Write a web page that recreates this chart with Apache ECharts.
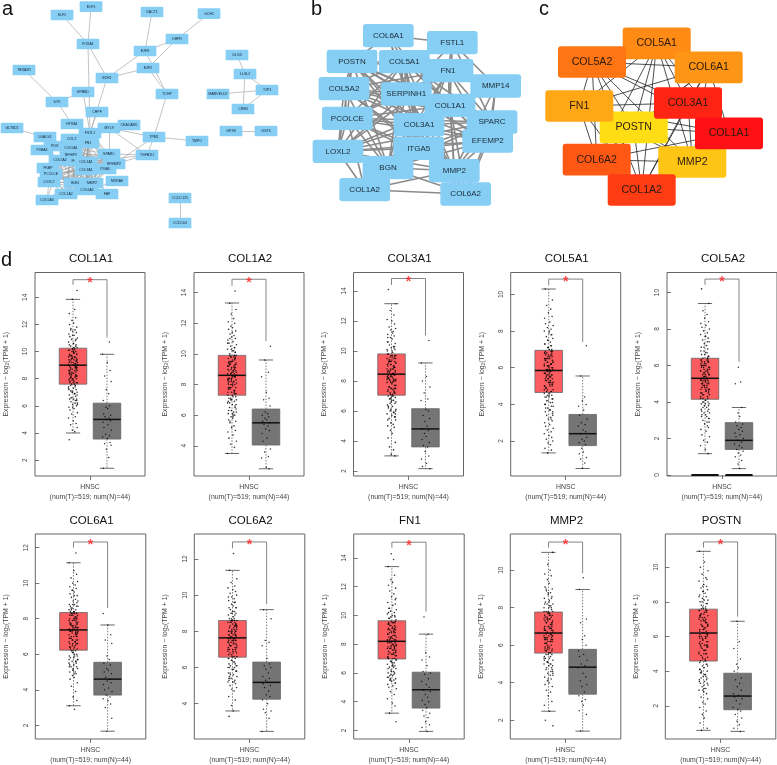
<!DOCTYPE html>
<html><head><meta charset="utf-8"><style>html,body{margin:0;padding:0;background:#fff}#c{width:777px;height:765px}</style>
<script src="https://cdn.jsdelivr.net/npm/echarts@6/dist/echarts.min.js"></script></head>
<body><div id="c"></div><script>
const genes=['COL1A1','COL1A2','COL3A1','COL5A1','COL5A2','COL6A1','COL6A2','FN1','MMP2','POSTN'];
// five-number summaries [low,q1,median,q3,high]
const statsT=[[4,7.6,9,10.25,13.85],[3.5,7.3,8.6,9.9,13.32],[3,7.05,8.45,9.8,13.15],[1.35,4.65,5.85,6.95,10.3],[1.17,4.15,5.3,6.4,9.4],[3.1,6.23,7.37,8.35,11.15],[3.6,6.57,7.64,8.6,11.37],[3.2,6.97,8.2,9.63,13.4],[2.48,5.58,6.65,7.77,10.95],[.58,4.58,6.2,7.58,10.92]];
const statsN=[[1.4,3.55,5,6.2,9.8],[2.5,4.05,5.5,6.4,9.6],[2.15,3.6,4.8,6.15,9.2],[.5,1.75,2.4,3.45,5.55],[.35,1.4,1.9,2.87,3.7],[1.67,3.7,4.6,5.55,7.65],[2.47,4.25,5.18,6.3,9.2],[1.93,3.55,4.83,6.05,8.7],[1.42,3.39,4.83,5.78,8.97],[.52,1.77,2.56,3.88,6.88]];
const axisRanges=[[.83,15.83],[2.03,15.31],[1.66,15.23],[.09,11.2],[-.055,11.1],[1.23,12.77],[2.05,13.38],[1.4,15.67],[1,11.93],[.08,11.92]];
const tickLabels=[[2,4,6,8,10,12,14],[4,6,8,10,12,14],[2,4,6,8,10,12,14],[2,4,6,8,10],[0,2,4,6,8,10],[2,4,6,8,10,12],[4,6,8,10,12],[2,4,6,8,10,12,14],[2,4,6,8,10],[2,4,6,8,10]];
// significance bracket [top,left leg end,right leg end]
const brackets=[[15.3,14.93,11.04],[14.87,14.44,10.83],[14.83,14.4,11.03],[10.84,10.5,7.41],[10.74,10.42,6.2],[12.32,12,8.6],[12.94,12.59,9.5],[15.1,14.72,10.27],[11.5,11.2,9.84],[11.46,11.13,7.15]];
// individual samples read from the jitter clouds
const t_COL1A1=[3.5,4.1,4.2,4.4,4.6,4.7,4.9,5.1,5.2,5.4,5.5,5.7,5.8,5.9,6,6.1,6.2,6.3,6.4,6.5,6.5,6.6,6.7,6.8,6.9,7,7,7.1,7.2,7.3,7.4,7.5,7.6,7.7,7.7,7.8,7.9,8,8,8.1,8.2,8.2,8.3,8.4,8.4,8.5,8.6,8.6,8.7,8.8,8.8,8.9,9,9,9.1,9.2,9.2,9.3,9.4,9.4,9.5,9.6,9.6,9.7,9.8,9.8,9.9,10,10,10.1,10.2,10.2,10.3,10.4,10.5,10.6,10.7,10.8,10.9,11,11.1,11.2,11.3,11.4,11.5,11.6,11.7,11.8,12,12.1,12.3,12.5,12.8,13.1,13.85,14.5];
const c_COL1A1=[8.1,9.3,7.7,10.1,8.9,9.5,6.2,8.4,9.9,7.2,8.7,10.2,9.1,6.6,8.2,9.7,7.9,8.5,10.4,9.2,6.9,8,9.4,7.5,8.8,10,9.6,6.4,8.3,9,7.8,10.3,8.6,9.3,5.9,7.4,8.1,9.8,8.9,10.6,7.1,9.1,8.4,7.6,9.5,6.8,8.7,10.9,9.2,7.3,8.2,9.7,6.1,8.5,10.1,9,7.7,11.2,8.8,9.4,6.5,8,9.9,7.9,8.3,10.5,9.6,7,8.6,11.6];
const n_COL1A1=[1.4,2.2,2.8,3.1,3.2,3.3,3.6,3.7,3.8,3.9,4.2,4.4,4.6,4.8,4.9,5,5.1,5.2,5.3,5.4,5.8,5.9,6,6.4,6.9,7.2,7.8,8.2,8.6,9.2,9.8,10.7];
const t_COL1A2=[3.5,3.9,4.1,4.3,4.5,4.7,4.9,5,5.2,5.3,5.5,5.6,5.7,5.8,5.9,6,6.1,6.2,6.3,6.4,6.5,6.6,6.7,6.8,6.9,7,7,7.1,7.2,7.3,7.4,7.5,7.6,7.7,7.8,7.8,7.9,8,8,8.1,8.2,8.3,8.3,8.4,8.5,8.5,8.6,8.7,8.7,8.8,8.9,8.9,9,9.1,9.1,9.2,9.3,9.3,9.4,9.5,9.5,9.6,9.7,9.8,9.8,9.9,10,10.1,10.2,10.3,10.4,10.5,10.6,10.7,10.8,10.9,11,11.1,11.2,11.3,11.5,11.6,11.7,11.8,12,12.1,12.3,12.6,12.9,13.3,14.1];
const c_COL1A2=[8,9.2,7.4,9.8,8.6,9.4,6,8.3,9.7,7,8.5,9.9,8.9,6.3,8.1,9.5,7.6,8.4,10.2,9,6.7,7.8,9.3,7.3,8.7,9.9,9.4,6.2,8.2,8.8,7.5,10.1,8.4,9.1,5.6,7.2,8,9.6,8.7,10.4,6.9,8.9,8.2,7.4,9.3,6.5,8.6,10.7,9,7.1,8.1,9.5,5.9,8.3,9.8,8.8,7.5,11,8.6,9.2,6.1,7.8,9.7,7.7,8.2,10.3,9.4,6.8,8.5,11.4];
const n_COL1A2=[2.5,2.6,3.2,3.3,3.6,3.8,4.3,4.5,4.8,5,5.1,5.3,5.4,5.5,5.6,5.7,5.8,5.9,6,6.1,6.2,6.6,7,7.1,7.5,8.5,8.8,9.6,10.5];
const t_COL3A1=[3,3.1,3.4,3.6,3.9,4.2,4.5,4.7,4.9,5,5.1,5.2,5.4,5.5,5.6,5.7,5.8,5.9,6,6.1,6.2,6.3,6.4,6.5,6.6,6.7,6.8,6.9,7,7,7.1,7.2,7.3,7.4,7.5,7.5,7.6,7.7,7.8,7.9,8,8,8.1,8.2,8.2,8.3,8.4,8.4,8.5,8.6,8.6,8.7,8.8,8.8,8.9,9,9,9.1,9.2,9.3,9.3,9.4,9.5,9.5,9.6,9.7,9.8,9.9,10,10.1,10.2,10.3,10.4,10.5,10.6,10.8,10.9,11,11.1,11.3,11.4,11.5,11.6,11.8,12,12.1,12.4,12.7,13.15,14.1];
const c_COL3A1=[7.9,9.1,7.2,9.7,8.5,9.3,5.8,8.2,9.6,6.8,8.4,9.8,8.8,6.1,8,9.4,7.5,8.3,10.1,8.9,6.5,7.7,9.2,7.1,8.6,9.7,9.3,5.9,8.1,8.7,7.4,10,8.3,9,5.4,7,7.9,9.5,8.6,10.3,6.7,8.8,8.1,7.2,9.2,6.3,8.5,10.6,8.9,6.9,8,9.4,5.6,8.2,9.7,8.7,7.3,10.9,8.5,9.1,6,7.6,9.6,7.5,8.1,10.2,9.3,6.6,8.4,11.2];
const n_COL3A1=[2.15,2.3,2.5,2.8,3,3.3,3.6,3.7,3.9,4.1,4.3,4.5,4.7,4.8,5,5.3,5.5,5.7,6,6.1,6.7,6.8,7.2,7.6,8,8.3,9.2,10.7];
const t_COL5A1=[1.35,1.5,1.6,1.8,1.9,2,2.1,2.2,2.3,2.4,2.5,2.6,2.7,2.8,2.9,3,3.1,3.2,3.3,3.4,3.5,3.6,3.7,3.8,3.9,4,4.1,4.2,4.3,4.4,4.5,4.5,4.6,4.7,4.8,4.8,4.9,5,5,5.1,5.2,5.2,5.3,5.4,5.4,5.5,5.6,5.6,5.7,5.8,5.8,5.9,5.9,6,6.1,6.1,6.2,6.3,6.3,6.4,6.5,6.5,6.6,6.7,6.7,6.8,6.9,6.9,7,7.1,7.2,7.3,7.4,7.5,7.6,7.7,7.8,7.9,8,8.1,8.2,8.3,8.4,8.5,8.7,8.8,9,9.2,9.4,9.7,10.3];
const c_COL5A1=[5.2,6.3,4.7,6.8,5.8,6.5,3.6,5.5,6.7,4.4,5.7,6.9,6.1,3.9,5.3,6.6,5,5.6,7.1,6.2,4.2,5.1,6.4,4.6,5.9,6.9,6.5,3.7,5.4,6,4.9,7,5.6,6.2,3.2,4.5,5.2,6.7,5.9,7.3,4.3,6.1,5.5,4.7,6.4,4,5.7,7.5,6.2,4.4,5.3,6.6,3.4,5.6,6.8,6,4.8,7.8,5.8,6.3,3.8,5.1,6.8,5,5.4,7.2,6.5,4.1,5.7,8];
const n_COL5A1=[.5,.8,1,1.1,1.3,1.4,1.6,1.8,1.9,2,2.1,2.2,2.4,2.5,2.6,2.8,2.9,3,3.2,3.4,3.7,3.9,4,4.2,4.4,5.55,7.2];
const t_COL5A2=[1.17,1.4,1.6,1.8,1.9,2.1,2.2,2.4,2.5,2.6,2.8,2.9,3,3.1,3.2,3.3,3.4,3.5,3.6,3.7,3.8,3.9,4,4,4.1,4.2,4.3,4.4,4.4,4.5,4.6,4.7,4.7,4.8,4.9,4.9,5,5,5.1,5.2,5.2,5.3,5.3,5.4,5.5,5.5,5.6,5.7,5.7,5.8,5.9,5.9,6,6,6.1,6.2,6.2,6.3,6.4,6.5,6.6,6.7,6.8,6.9,7,7.1,7.2,7.3,7.4,7.5,7.6,7.7,7.8,7.9,8,8.1,8.2,8.3,8.4,8.6,8.8,9,9.4,10.2];
const c_COL5A2=[4.7,5.8,4.2,6.3,5.3,6,3.1,5,6.2,3.9,5.2,6.4,5.6,3.4,4.8,6.1,4.5,5.1,6.6,5.7,3.7,4.6,5.9,4.1,5.4,6.4,6,3.2,4.9,5.5,4.4,6.5,5.1,5.7,2.7,4,4.7,6.2,5.4,6.8,3.8,5.6,5,4.2,5.9,3.5,5.2,7,5.7,3.9,4.8,6.1,2.9,5.1,6.3,5.5,4.3,7.3,5.3,5.8,3.3,4.6,6.3,4.5,4.9,6.7,6,3.6,5.2,7.6];
const n_COL5A2=[.35,.6,.8,1,1.1,1.2,1.3,1.4,1.5,1.6,1.7,1.8,1.9,2,2.1,2.2,2.3,2.4,2.5,2.6,2.7,2.8,2.9,3.2,3.4,3.7,5,5.1,5.9];
const t_COL6A1=[2.9,3.1,3.4,3.6,3.9,4.2,4.4,4.6,4.7,4.8,4.9,5,5,5.1,5.2,5.3,5.3,5.4,5.5,5.6,5.6,5.7,5.8,5.9,5.9,6,6.1,6.2,6.2,6.3,6.4,6.4,6.5,6.6,6.6,6.7,6.8,6.8,6.9,7,7,7.1,7.2,7.2,7.3,7.3,7.4,7.4,7.5,7.6,7.6,7.7,7.7,7.8,7.9,7.9,8,8,8.1,8.2,8.2,8.3,8.3,8.4,8.5,8.5,8.6,8.7,8.7,8.8,8.8,8.9,9,9.1,9.2,9.3,9.4,9.5,9.6,9.7,9.8,9.9,10,10.1,10.3,10.5,10.7,11.15,11.7];
const c_COL6A1=[6.8,7.8,6.3,8.3,7.4,8,5.2,7.1,8.2,5.9,7.3,8.4,7.6,5.5,6.9,8.1,6.6,7.2,8.6,7.7,5.8,6.7,7.9,6.2,7.5,8.4,8,5.3,7,7.5,6.5,8.5,7.2,7.7,4.9,6.1,6.8,8.2,7.5,8.8,5.7,7.6,7.1,6.3,7.9,5.6,7.3,9,7.7,6,6.9,8.1,5.1,7.2,8.3,7.5,6.4,9.3,7.4,7.8,5.4,6.7,8.3,6.6,7,8.7,8,5.7,7.3,9.6];
const n_COL6A1=[1.67,2.4,3,3.2,3.4,3.5,3.6,3.7,3.9,4,4.1,4.3,4.4,4.5,4.6,4.7,4.9,5,5.1,5.2,5.4,5.5,5.7,5.9,6.6,6.8,7.1,7.65,8.3];
const t_COL6A2=[3.3,3.6,3.9,4.2,4.4,4.7,4.8,4.9,5,5.1,5.2,5.2,5.3,5.4,5.5,5.5,5.6,5.7,5.8,5.9,6,6.1,6.1,6.2,6.3,6.4,6.5,6.5,6.6,6.7,6.8,6.8,6.9,7,7,7.1,7.2,7.2,7.3,7.4,7.4,7.5,7.5,7.6,7.7,7.7,7.8,7.8,7.9,8,8,8.1,8.1,8.2,8.3,8.3,8.4,8.5,8.5,8.6,8.6,8.7,8.8,8.9,9,9,9.1,9.2,9.3,9.3,9.4,9.5,9.6,9.7,9.8,9.9,10,10.1,10.2,10.3,10.4,10.5,10.7,10.9,11.37,12.3];
const c_COL6A2=[7.1,8,6.6,8.6,7.6,8.3,5.4,7.3,8.5,6.2,7.5,8.7,7.9,5.8,7.2,8.4,6.9,7.4,8.9,8,6.1,7,8.2,6.5,7.8,8.6,8.3,5.6,7.3,7.8,6.8,8.7,7.5,8,5.2,6.4,7.1,8.5,7.8,9.1,6,7.9,7.4,6.6,8.2,5.9,7.6,9.3,8,6.3,7.2,8.4,5.3,7.5,8.6,7.8,6.7,9.6,7.7,8.1,5.7,7,8.6,6.9,7.3,9,8.3,6,7.6,9.9];
const n_COL6A2=[2.47,3.2,3.5,3.6,3.7,4,4.2,4.4,4.5,4.7,4.9,5,5.1,5.2,5.3,5.4,5.5,5.7,5.9,6,6.1,6.2,6.5,7.2,7.4,7.5,8.7,9.2];
const t_FN1=[2.6,3.2,3.7,3.9,4.2,4.5,4.7,4.9,5,5.1,5.2,5.3,5.4,5.5,5.5,5.6,5.7,5.8,5.9,6,6,6.1,6.2,6.3,6.4,6.5,6.5,6.6,6.7,6.8,6.9,7,7,7.1,7.2,7.3,7.3,7.4,7.5,7.5,7.6,7.7,7.7,7.8,7.9,7.9,8,8.1,8.1,8.2,8.3,8.3,8.4,8.5,8.5,8.6,8.7,8.8,8.8,8.9,9,9,9.1,9.2,9.3,9.3,9.4,9.5,9.6,9.7,9.8,9.9,10,10.1,10.2,10.3,10.4,10.5,10.7,10.9,11.1,11.3,11.5,11.7,11.9,12.1,12.3,12.5,12.8,13.4,13.9,14.3];
const c_FN1=[7.6,8.8,7,9.5,8.2,9,5.6,7.9,9.4,6.6,8.1,9.6,8.5,5.9,7.7,9.2,7.3,8,9.9,8.6,6.3,7.4,8.9,6.9,8.3,9.5,9.1,5.7,7.8,8.4,7.2,9.8,8,8.7,5.3,6.8,7.6,9.3,8.3,10.2,6.5,8.5,7.8,7,8.9,6.1,8.2,10.5,8.6,6.7,7.7,9.1,5.5,7.9,9.5,8.4,7.1,10.8,8.2,8.8,5.8,7.4,9.4,7.3,7.8,10,9,6.4,8.1,11.2];
const n_FN1=[1.93,2.2,2.4,2.6,2.9,3,3.2,3.4,3.6,3.8,4,4.1,4.3,4.5,4.7,4.8,5,5.2,5.4,5.6,5.9,6,6.1,6.5,6.9,7.1,7.4,8.7,9.9];
const t_MMP2=[1.7,2,2.48,2.8,3,3.3,3.5,3.6,3.8,3.9,4,4.1,4.2,4.3,4.4,4.5,4.6,4.7,4.8,4.9,5,5,5.1,5.2,5.3,5.3,5.4,5.5,5.5,5.6,5.7,5.8,5.8,5.9,6,6,6.1,6.2,6.2,6.3,6.4,6.4,6.5,6.5,6.6,6.7,6.7,6.8,6.9,6.9,7,7,7.1,7.2,7.2,7.3,7.4,7.4,7.5,7.6,7.6,7.7,7.8,7.8,7.9,8,8,8.1,8.2,8.2,8.3,8.4,8.5,8.6,8.7,8.8,8.9,9,9.1,9.3,9.5,9.7,9.8,10,10.3,10.95];
const c_MMP2=[6.1,7.2,5.6,7.8,6.6,7.4,4.5,6.3,7.6,5.2,6.5,7.8,6.9,4.8,6.2,7.5,5.8,6.4,8,7,5,5.9,7.3,5.5,6.8,7.7,7.4,4.6,6.3,6.8,5.7,8.1,6.4,7.1,4.2,5.4,6.1,7.6,6.8,8.3,5.1,6.9,6.3,5.6,7.3,4.9,6.6,8.5,7,5.3,6.2,7.5,4.4,6.4,7.7,6.8,5.7,8.8,6.6,7.2,4.7,5.9,7.7,5.8,6.3,8.2,7.4,5.1,6.5,9];
const n_MMP2=[1.42,2.3,2.5,2.8,3,3.1,3.3,3.5,3.8,3.9,4.1,4.3,4.5,4.8,4.9,5,5.2,5.4,5.5,5.7,6,6.3,6.5,7.2,7.4,8.97,9.6];
const t_POSTN=[.58,.7,1,1.3,1.5,1.7,1.9,2.1,2.2,2.4,2.5,2.7,2.8,2.9,3,3.1,3.2,3.3,3.4,3.5,3.6,3.7,3.8,3.9,4,4.1,4.2,4.3,4.4,4.5,4.6,4.7,4.8,4.9,5,5,5.1,5.2,5.3,5.4,5.5,5.5,5.6,5.7,5.8,5.9,6,6,6.1,6.2,6.2,6.3,6.4,6.5,6.6,6.6,6.7,6.8,6.9,7,7,7.1,7.2,7.3,7.4,7.5,7.5,7.6,7.7,7.8,7.9,8,8.1,8.2,8.3,8.4,8.5,8.6,8.7,8.8,8.9,9,9.2,9.4,9.6,9.8,10,10.3,10.92];
const c_POSTN=[5.4,7,4.6,7.6,6.2,7.2,3.2,5.8,7.5,4.1,6,7.7,6.6,3.6,5.5,7.3,5,5.9,8,6.7,3.9,5.2,7.1,4.4,6.4,7.6,7.3,3.3,5.7,6.5,4.8,7.9,5.9,6.9,2.9,4.3,5.4,7.4,6.4,8.3,3.7,6.6,5.7,4.6,7.1,3.4,6.1,8.6,6.8,4,5.5,7.2,3,5.9,7.5,6.3,4.7,8.9,6.1,6.9,3.5,5.2,7.5,5,5.6,8.1,7.2,3.8,6,9.3];
const n_POSTN=[.52,.7,.9,1.1,1.3,1.5,1.7,1.8,1.9,2.1,2.3,2.4,2.5,2.6,2.7,2.9,3.1,3.3,3.5,3.6,4,4.2,4.4,4.7,5.3,5.7,6.88];
const tumorPoints=[t_COL1A1.concat(c_COL1A1),t_COL1A2.concat(c_COL1A2),t_COL3A1.concat(c_COL3A1),t_COL5A1.concat(c_COL5A1),t_COL5A2.concat(c_COL5A2),t_COL6A1.concat(c_COL6A1),t_COL6A2.concat(c_COL6A2),t_FN1.concat(c_FN1),t_MMP2.concat(c_MMP2),t_POSTN.concat(c_POSTN)];
const normalPoints=[n_COL1A1,n_COL1A2,n_COL3A1,n_COL5A1,n_COL5A2,n_COL6A1,n_COL6A2,n_FN1,n_MMP2,n_POSTN];

// network panels: name, position on the shared picture-space axes
const nodesA=[['KLF5',62,15],['ELF3',91,6.7],['DACT1',152,12],['GCH1',209,13.7],['FOXA1',88,44],['DHFR',177,39],['E2F8',145,51],['E2F2',148,68],['EZH2',107,78],['TBXA2R',24,70],['DLG3',237,55],['LLGL2',245,74],['TJP3',267,90],['MARVELD2',218,94],['CRB3',243,109],['TCHP',167,94],['EPB8D',83,92],['SYK',57,102],['CHPF',97,112],['HTRA1',72,124],['GLT8D2',12,128],['LGALS1',45,137],['COL1\'',72,139],['PDS\'',55,146],['P4HA3',42,150],['FSTL1',90,133],['COL5A1',71,148],['FN1',88,143],['MYL9',109,128],['CEACAM5',129,125],['TPM1',154,137],['TMPO',197,141],['SPARC',109,154],['TGFB1I1',147,155],['NFHIP2',71,155],['COL5A2',60,160],['IF',73,161],['COL1A1',86,162],['EFEMP2',114,164],['FKBP',48,168],['COL3A1',86,170],['ITGA5',105,169],['PCOLCE',51,174],['LOXL2',49,182],['BGN',75,183],['MMP2',92,183],['MXRA8',117,181],['COL6A2',87,190],['COL5A3',47,200],['COL1A2',66,194],['FAP',107,194],['GPX8',231,131],['GGT6',266,131],['CCDC125',180,198],['CCDC64',180,223]];
const edgesA=[['KLF5','FOXA1'],['ELF3','FOXA1'],['FOXA1','EZH2'],['FOXA1','FSTL1'],['EZH2','E2F8'],['EZH2','E2F2'],['E2F8','DHFR'],['E2F2','DHFR'],['E2F8','DACT1'],['DHFR','GCH1'],['E2F8','TCHP'],['E2F2','TCHP'],['EZH2','FSTL1'],['TBXA2R','SYK'],['SYK','HTRA1'],['SYK','EPB8D'],['EPB8D','FSTL1'],['CHPF','FSTL1'],['TCHP','TPM1'],['TPM1','TMPO'],['TPM1','MYL9'],['TPM1','TGFB1I1'],['MYL9','TGFB1I1'],['MYL9','SPARC'],['CEACAM5','MYL9'],['GLT8D2','LGALS1'],['LGALS1','COL5A1'],['HTRA1','FSTL1'],['TGFB1I1','SPARC'],['TGFB1I1','EFEMP2'],['TGFB1I1','COL1A1'],['TPM1','EFEMP2'],['LLGL2','DLG3'],['LLGL2','TJP3'],['LLGL2','CRB3'],['TJP3','CRB3'],['TJP3','MARVELD2'],['GPX8','GGT6'],['CCDC125','CCDC64'],['P4HA3','COL5A2'],['FKBP','COL1A2'],['MXRA8','COL6A2'],['FAP','COL1A1'],['COL5A3','COL1A2'],['COL5A3','COL5A2'],['COL5A3','COL3A1'],['COL5A3','LOXL2']];
const coreA=['FSTL1','COL5A1','FN1','SPARC','NFHIP2','COL5A2','COL1A1','EFEMP2','COL3A1','ITGA5','PCOLCE','LOXL2','BGN','MMP2','COL6A2','COL1A2'];
const nodesB=[['COL6A1',388.3,35.7],['FSTL1',452.3,42.7],['POSTN',352,61.3],['COL5A1',404.3,61.7],['FN1',448,70.7],['MMP14',495.7,86],['COL5A2',344,88.7],['SERPINH1',406.3,94],['COL1A1',450,105.3],['PCOLCE',347.3,118.3],['COL3A1',419,124.7],['SPARC',492,122],['EFEMP2',487.7,141],['LOXL2',338,151.3],['ITGA5',418.7,148.3],['BGN',388,167.7],['MMP2',454.3,170.7],['COL1A2',364.7,189.7],['COL6A2',465.7,194]];
// genes in module b with only a few partners; all others are fully linked
const sparseB={COL6A1:['FSTL1','POSTN','SERPINH1','COL5A1','COL3A1','COL1A1'],FSTL1:['COL6A1','COL5A1','FN1','SERPINH1','COL1A1','MMP14','SPARC'],MMP14:['FSTL1','FN1','COL1A1','SPARC','EFEMP2','MMP2','COL3A1'],COL6A2:['COL1A2','MMP2','BGN','COL3A1','COL1A1','ITGA5','SPARC','EFEMP2'],COL1A2:['COL6A2','BGN','MMP2','ITGA5','COL3A1','LOXL2','PCOLCE']};
const nodesC=[['POSTN',633.7,127.3,'#FFDD14'],['COL5A1',656.7,43.3,'#FF8A14'],['COL5A2',592,62,'#FF7514'],['COL6A1',708.7,67.3,'#FF9514'],['FN1',579.3,106,'#FFA714'],['COL3A1',688,103,'#FF2414'],['MMP2',692.3,162,'#FFC514'],['COL1A1',729,133.3,'#FF1014'],['COL6A2',596.7,159.7,'#FF5814'],['COL1A2',641.7,190,'#FF3C14']];
const frames=[[35,272.5,110,203.5],[194,272.5,110,203.5],[353.5,272.5,110,203.5],[510.7,272.5,110,203.5],[667,272.5,110,203.5],[35.3,534,110.5,205.5],[194.3,534,110.5,205.5],[353.7,534,110.5,205.5],[510.3,534,110.5,205.5],[665.3,534,110.5,205.5]];
const jitter=[-.11,.05,-.02,.12,-.07,.09,.01,-.13,.07,-.04,.13,-.09,.03,-.12,.1,-.01,.06,-.06,.11,-.1,.02,-.03,.08];

const font='"Liberation Sans",Arial,sans-serif';
const pairs=l=>{const o=[];l.forEach((a,i)=>l.slice(i+1).forEach(b=>o.push([a,b])));return o;};
const rr=(w,h,r)=>`path://M${r} 0H${w-r}Q${w} 0 ${w} ${r}V${h-r}Q${w} ${h} ${w-r} ${h}H${r}Q0 ${h} 0 ${h-r}V${r}Q0 0 ${r} 0Z`;
const grids=[{left:0,top:0,width:777,height:240,show:false}],xAxes=[{gridIndex:0,type:'value',min:0,max:777,show:false}],yAxes=[{gridIndex:0,type:'value',min:0,max:240,inverse:true,show:false}],series=[];
function net(name,nodes,edges,w,h,r,fs,col,lc,lw,tc){
  series.push({type:'graph',name,coordinateSystem:'cartesian2d',xAxisIndex:0,yAxisIndex:0,layout:'none',roam:false,silent:true,z:2,
    symbol:rr(w,h,r),symbolSize:[w,h],edgeSymbol:['none','none'],
    data:nodes.map(n=>({name:n[0],value:[n[1],n[2]],itemStyle:{color:n[3]||col}})),
    edges:edges.map(e=>({source:e[0],target:e[1]})),
    lineStyle:{color:lc,width:lw,opacity:1,curveness:0},
    label:{show:true,position:'inside',formatter:'{b}',fontSize:fs,color:tc,fontFamily:font}});
}
const edgesB=pairs(nodesB.map(n=>n[0])).filter(([a,b])=>(!sparseB[a]||sparseB[a].includes(b))&&(!sparseB[b]||sparseB[b].includes(a)));
net('PPI network',nodesA,edgesA.concat(pairs(coreA)),22.7,10.7,1.2,3.5,'#87CEF5','#9a9a9a',.6,'#123');
net('Hub module',nodesB,edgesB,50.7,23.3,3,8,'#87CEF5','#8a8a8a',1.6,'#1a2a33');
net('Top 10 genes',nodesC,pairs(nodesC.map(n=>n[0])),68,31.7,3,10.6,'#000','#222',.8,'#2a1a10');

const titles=[['a',2,-1],['b',311,-1],['c',539,-1],['d',1,250]].map(t=>({text:t[0],left:t[1],top:t[2],padding:0,textStyle:{fontSize:20,fontWeight:'normal',fontFamily:font,color:'#111'}}));
const T=1,N=2;
genes.forEach((g,p)=>{
  const f=frames[p],gi=p+1,[ymin,ymax]=axisRanges[p];
  titles.push({text:g,left:f[0]+f[2]/2+1,top:f[1]-19.5,padding:0,textAlign:'center',textStyle:{fontSize:11.5,fontWeight:'normal',fontFamily:font,color:'#111'}});
  grids.push({left:f[0],top:f[1],width:f[2],height:f[3],show:true,borderColor:'#666',borderWidth:1,backgroundColor:'transparent'});
  xAxes.push({gridIndex:gi,type:'value',min:-.118,max:3.118,splitLine:{show:false},axisLine:{show:false},
    axisTick:{show:true,customValues:[1.5],length:4,lineStyle:{color:'#555',width:.8}},
    axisLabel:{show:true,customValues:[1.5],margin:6,formatter:()=>'HNSC\n(num(T)=519; num(N)=44)',fontSize:6.9,lineHeight:10,color:'#444',fontFamily:font}});
  yAxes.push({gridIndex:gi,type:'value',min:ymin,max:ymax,splitLine:{show:false},axisLine:{show:false},
    axisTick:{show:true,customValues:tickLabels[p],length:4,lineStyle:{color:'#555',width:.8}},
    axisLabel:{show:true,customValues:tickLabels[p],rotate:90,margin:6,fontSize:6.5,color:'#444',fontFamily:font},
    name:'{n|Expression \u2212 log}{s|2}{n|(TPM + 1)}',nameLocation:'middle',nameGap:25,
    nameTextStyle:{rich:{n:{fontSize:6.9,color:'#444',fontFamily:font},s:{fontSize:4.8,color:'#444',fontFamily:font,verticalAlign:'bottom',padding:[3,0,0,0]}}}});
  const base={xAxisIndex:gi,yAxisIndex:gi};
  series.push({...base,type:'custom',name:g+' box',z:2,silent:true,encode:{x:0,y:[1,2,3,4,5]},
    data:[[T,...statsT[p]],[N,...statsN[p]]],
    renderItem(params,api){
      const x=api.value(0),[lo,q1,med,q3,hi]=[1,2,3,4,5].map(i=>api.value(i));
      const pt=(a,b)=>api.coord([a,b]);
      const seg=(a,b,st)=>({type:'line',shape:{x1:a[0],y1:a[1],x2:b[0],y2:b[1]},style:st});
      const dash={stroke:'#444',lineWidth:.7,lineDash:[1.5,1.5]},cap={stroke:'#444',lineWidth:.8};
      const a=pt(x-.405,q3),b=pt(x+.405,q1),fill=params.dataIndex===0?'#FA5C60':'#757575';
      return {type:'group',children:[
        seg(pt(x,q3),pt(x,hi),dash),seg(pt(x,q1),pt(x,lo),dash),
        seg(pt(x-.21,hi),pt(x+.21,hi),cap),seg(pt(x-.21,lo),pt(x+.21,lo),cap),
        {type:'rect',shape:{x:a[0],y:a[1],width:b[0]-a[0],height:b[1]-a[1]},style:{fill,stroke:'#666',lineWidth:.8}},
        seg(pt(x-.405,med),pt(x+.405,med),{stroke:'#111',lineWidth:1.5})]};
    }});
  series.push({...base,type:'scatter',name:g+' tumor samples',z:3,silent:true,symbolSize:1.6,itemStyle:{color:'#000'},
    data:tumorPoints[p].map((y,i)=>[T+jitter[(i+p*7)%jitter.length],y])});
  series.push({...base,type:'scatter',name:g+' normal samples',z:3,silent:true,symbolSize:1.5,itemStyle:{color:'#000'},
    data:normalPoints[p].map((y,i)=>[N+jitter[(i+p*5)%jitter.length],y])});
  const br=brackets[p];
  series.push({...base,type:'line',name:g+' bracket',z:3,silent:true,symbol:'none',lineStyle:{color:'#777',width:.9},
    data:[[T,br[1]],[T,br[0]],[N,br[0]],[N,br[2]]]});
  series.push({...base,type:'scatter',name:g+' significance',z:4,silent:true,symbol:'circle',symbolSize:1,itemStyle:{color:'#F22'},
    data:[[1.5,br[0]]],label:{show:true,position:'inside',formatter:'*',color:'#F22',fontSize:14,fontWeight:'bold',fontFamily:font,offset:[0,3.5]}});
  if(g==='COL5A2')[[.6,1.4],[1.6,2.4]].forEach(s=>series.push({...base,type:'line',name:g+' zero samples',z:3,silent:true,symbol:'none',clip:false,lineStyle:{color:'#111',width:2},data:[[s[0],0],[s[1],0]]}));
});
const chart=echarts.init(document.getElementById('c'),null,{renderer:'canvas'});
chart.setOption({animation:false,backgroundColor:'#fff',tooltip:{show:false},title:titles,grid:grids,xAxis:xAxes,yAxis:yAxes,series});
</script></body></html>
